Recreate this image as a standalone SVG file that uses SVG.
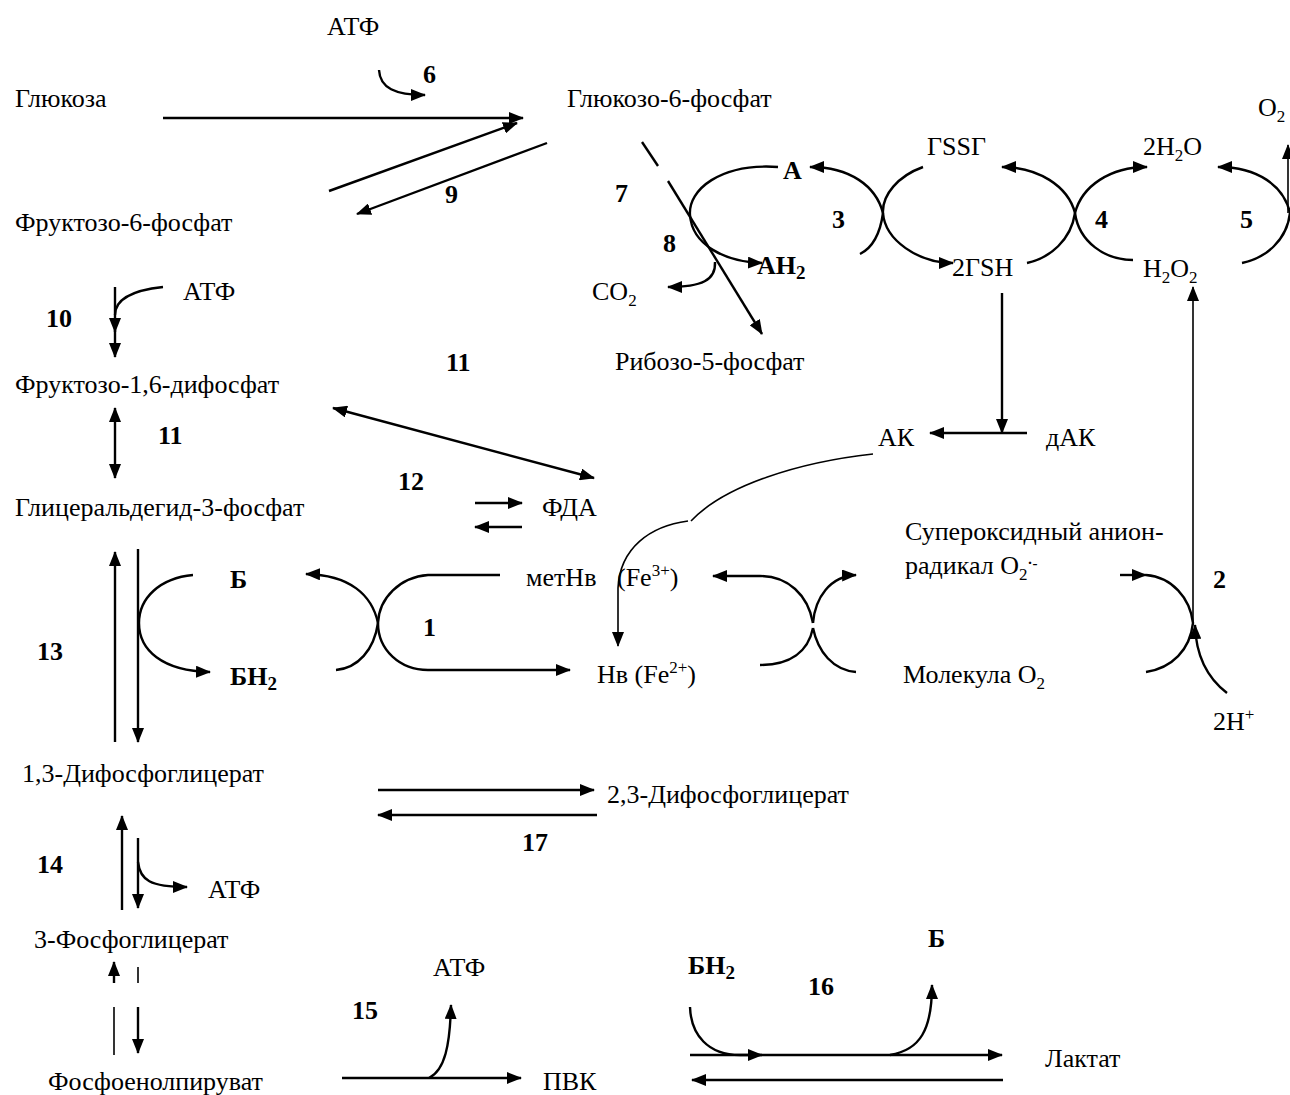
<svg xmlns="http://www.w3.org/2000/svg" width="1290" height="1095" viewBox="0 0 1290 1095">
<defs>
<marker id="ah" markerUnits="userSpaceOnUse" markerWidth="16" markerHeight="12" refX="14" refY="6" orient="auto-start-reverse">
<path d="M0,0 L15,6 L0,12 z" fill="#000"/>
</marker>
</defs>
<style>
text{font-family:"Liberation Serif","Times New Roman",serif;font-size:26px;fill:#000}
.b{font-weight:bold}
.l{fill:none;stroke:#000;stroke-width:2.4}
.t{fill:none;stroke:#000;stroke-width:1.6}
.a{marker-end:url(#ah)}
.s{marker-start:url(#ah)}
</style>
<rect width="1290" height="1095" fill="#fff"/>
<g id="nodes">
<g id="n-atp1"><text x="327" y="35">АТФ</text></g>
<g id="n-glc"><text x="15" y="107">Глюкоза</text></g>
<g id="n-g6p"><text x="567" y="107">Глюкозо-6-фосфат</text></g>
<g id="n-o2top"><text x="1258" y="116">O<tspan dy="6" font-size="17">2</tspan></text></g>
<g id="n-f6p"><text x="15" y="231">Фруктозо-6-фосфат</text></g>
<g id="n-gssg"><text x="927" y="155">ГSSГ</text></g>
<g id="n-h2o"><text x="1143" y="155">2H<tspan dy="6" font-size="17">2</tspan><tspan dy="-6">O</tspan></text></g>
<g id="n-gsh"><text x="952" y="276">2ГSH</text></g>
<g id="n-h2o2"><text x="1143" y="277">H<tspan dy="6" font-size="17">2</tspan><tspan dy="-6">O</tspan><tspan dy="6" font-size="17">2</tspan></text></g>
<g id="n-co2"><text x="592" y="300">CO<tspan dy="6" font-size="17">2</tspan></text></g>
<g id="n-atp2"><text x="183" y="300">АТФ</text></g>
<g id="n-r5p"><text x="615" y="370">Рибозо-5-фосфат</text></g>
<g id="n-fbp"><text x="15" y="393">Фруктозо-1,6-дифосфат</text></g>
<g id="n-ak"><text x="878" y="446">АК</text></g>
<g id="n-dak"><text x="1046" y="446">дАК</text></g>
<g id="n-gap"><text x="15" y="516">Глицеральдегид-3-фосфат</text></g>
<g id="n-fda"><text x="542" y="516">ФДА</text></g>
<g id="n-sup"><text x="905" y="540">Супероксидный анион-</text><text x="905" y="574">радикал O<tspan dy="6" font-size="17">2</tspan><tspan dy="-12" font-size="15" font-weight="bold">·-</tspan></text></g>
<g id="n-methb"><text x="526" y="586">метНв</text><text x="617" y="586">(Fe<tspan dy="-10" font-size="17">3+</tspan><tspan dy="10">)</tspan></text></g>
<g id="n-hb"><text x="597" y="683">Нв (Fe<tspan dy="-10" font-size="17">2+</tspan><tspan dy="10">)</tspan></text></g>
<g id="n-o2mol"><text x="903" y="683">Молекула O<tspan dy="6" font-size="17">2</tspan></text></g>
<g id="n-2h"><text x="1213" y="730">2H<tspan dy="-10" font-size="17">+</tspan></text></g>
<g id="n-13dpg"><text x="22" y="782">1,3-Дифосфоглицерат</text></g>
<g id="n-23dpg"><text x="607" y="803">2,3-Дифосфоглицерат</text></g>
<g id="n-atp3"><text x="208" y="898">АТФ</text></g>
<g id="n-3pg"><text x="34" y="948">3-Фосфоглицерат</text></g>
<g id="n-atp4"><text x="433" y="976">АТФ</text></g>
<g id="n-lact"><text x="1045" y="1067">Лактат</text></g>
<g id="n-pep"><text x="48" y="1090">Фосфоенолпируват</text></g>
<g id="n-pvk"><text x="543" y="1090">ПВК</text></g>
</g>
<g id="labels">
<text class="b" x="423" y="83">6</text>
<text class="b" x="445" y="203">9</text>
<text class="b" x="615" y="202">7</text>
<text class="b" x="663" y="252">8</text>
<text class="b" x="783" y="179">А</text>
<text class="b" x="832" y="228">3</text>
<text class="b" x="757" y="274">АН<tspan dy="5" font-size="19">2</tspan></text>
<text class="b" x="1095" y="228">4</text>
<text class="b" x="1240" y="228">5</text>
<text class="b" x="46" y="327">10</text>
<text class="b" x="446" y="371">11</text>
<text class="b" x="158" y="444">11</text>
<text class="b" x="398" y="490">12</text>
<text class="b" x="230" y="588">Б</text>
<text class="b" x="423" y="636">1</text>
<text class="b" x="1213" y="588">2</text>
<text class="b" x="37" y="660">13</text>
<text class="b" x="230" y="685">БН<tspan dy="5" font-size="19">2</tspan></text>
<text class="b" x="37" y="873">14</text>
<text class="b" x="522" y="851">17</text>
<text class="b" x="928" y="947">Б</text>
<text class="b" x="688" y="974">БН<tspan dy="5" font-size="19">2</tspan></text>
<text class="b" x="808" y="995">16</text>
<text class="b" x="352" y="1019">15</text>
</g>
<g id="connectors">
<path class="l a" d="M379,70 C380,88 395,95 425,95"/>
<path class="l a" d="M163,118 L523,118"/>
<path class="l a" d="M329,191 L517,123"/>
<path class="l a" d="M547,143 L357,214"/>
<path class="l" d="M642,142 L658,166"/>
<path class="l a" d="M668,181 L762,334"/>
<path class="l a" d="M778,167 C720,163 688,190 690,215 C692,245 725,262 762,263"/>
<path class="l a" d="M883,213 C876,186 850,167 810,167"/>
<path class="l" d="M883,213 C880,235 872,248 860,254"/>
<path class="l a" d="M715,262 C716,280 702,287 668,287"/>
<path class="l a" d="M923,167 C898,176 882,195 883,213 C885,240 918,263 953,263"/>
<path class="l a" d="M1075,213 C1068,186 1038,167 1002,167"/>
<path class="l" d="M1075,213 C1071,240 1050,258 1027,263"/>
<path class="l a" d="M1075,213 C1082,186 1110,167 1147,167"/>
<path class="l" d="M1075,213 C1079,242 1105,260 1133,260"/>
<path class="l a" d="M1290,213 C1284,186 1258,167 1218,167"/>
<path class="l" d="M1290,213 C1287,240 1266,258 1242,263"/>
<path class="t a" d="M1288,213 L1288,145"/>
<path class="l a" d="M1002,293 L1002,433"/>
<path class="l a" d="M1027,433 L930,433"/>
<path class="t a" d="M1193,623 L1193,287"/>
<path class="t" d="M873,454 C800,462 725,485 691,521"/>
<path class="t a" d="M688,521 C650,526 620,548 618,588 L618,646"/>
<path class="l" d="M163,287 C135,290 115,298 115,315"/>
<path class="l a" d="M115,287 L115,332"/>
<path class="l a" d="M115,330 L115,357"/>
<path class="l a s" d="M115,408 L115,478"/>
<path class="l a s" d="M333,408 L594,478"/>
<path class="l a" d="M475,503 L522,503"/>
<path class="l a" d="M522,527 L475,527"/>
<path class="l a" d="M115,742 L115,552"/>
<path class="l a" d="M138,549 L138,742"/>
<path class="l a" d="M193,575 C160,578 139,598 139,623 C139,650 162,671 210,672"/>
<path class="l a" d="M378,623 C372,595 350,575 306,574"/>
<path class="l" d="M378,623 C374,650 358,668 336,670"/>
<path class="l a" d="M500,575 L428,575 C400,577 379,598 378,623 C378,650 400,670 428,670 L570,670"/>
<path class="l a" d="M813,623 C808,595 788,576 760,576 L713,576"/>
<path class="l a" d="M813,623 C815,598 830,576 856,575"/>
<path class="l" d="M813,628 C808,652 790,665 760,665"/>
<path class="l" d="M813,628 C818,652 833,670 856,672"/>
<path class="l a" d="M1120,575 L1146,575"/>
<path class="l" d="M1146,575 C1172,577 1190,598 1193,623 C1190,650 1172,668 1146,672"/>
<path class="l a" d="M1227,693 C1210,680 1196,660 1195,625"/>
<path class="l a" d="M122,910 L122,816"/>
<path class="l a" d="M138,838 L138,908"/>
<path class="l a" d="M138,862 C140,880 150,887 187,887"/>
<path class="l a" d="M378,790 L594,790"/>
<path class="l a" d="M597,815 L378,815"/>
<path class="l a" d="M114,983 L114,962"/>
<path class="t" d="M138,967 L138,983"/>
<path class="t" d="M114,1007 L114,1055"/>
<path class="l a" d="M138,1007 L138,1053"/>
<path class="l a" d="M342,1078 L521,1078"/>
<path class="l a" d="M429,1078 C445,1070 450,1045 451,1005"/>
<path class="l a" d="M690,1055 L1002,1055"/>
<path class="l a" d="M690,1007 C691,1035 708,1055 740,1055 L762,1055"/>
<path class="l a" d="M890,1055 C920,1050 932,1030 932,985"/>
<path class="l a" d="M1003,1080 L692,1080"/>
</g>
</svg>
